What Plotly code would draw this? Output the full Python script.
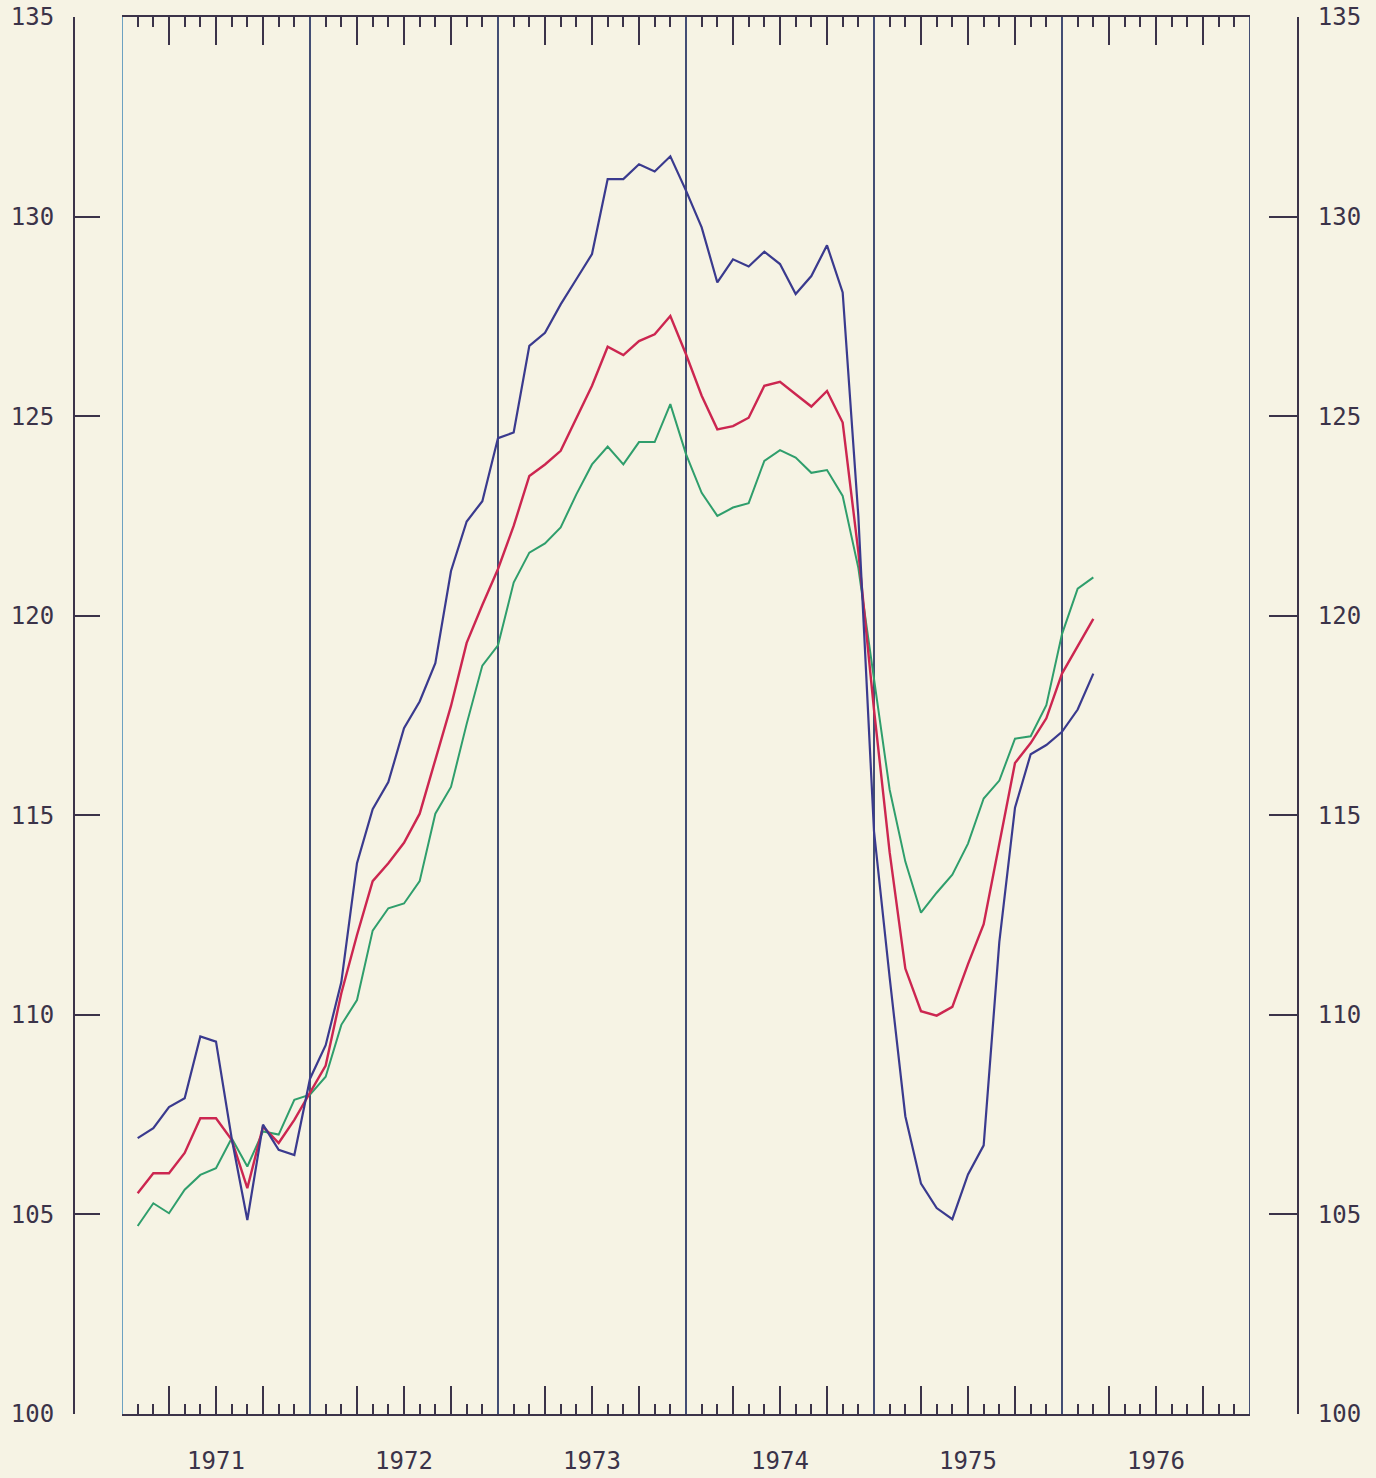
import plotly.graph_objects as go

# months since start of 1971 (end of month positions)
months = list(range(1, 63))

blue = [106.91, 107.16, 107.69, 107.91, 109.46, 109.33, 106.91, 104.86, 107.25, 106.62, 106.49, 108.40,
        109.24, 110.82, 113.80, 115.15, 115.83, 117.18, 117.85, 118.81, 121.12, 122.36, 122.87, 124.45,
        124.59, 126.76, 127.09, 127.80, 128.43, 129.06, 130.94, 130.94, 131.31, 131.13, 131.51, 130.65,
        129.73, 128.35, 128.93, 128.75, 129.12, 128.81, 128.06, 128.51, 129.28, 128.10, 122.50, 114.60,
        110.93, 107.46, 105.77, 105.16, 104.88, 106.00, 106.73, 111.83, 115.19, 116.53, 116.76, 117.09,
        117.65, 118.55]

red = [105.53, 106.03, 106.03, 106.54, 107.41, 107.41, 106.87, 105.66, 107.20, 106.79, 107.37, 108.05,
       108.73, 110.54, 112.00, 113.35, 113.80, 114.31, 115.04, 116.39, 117.74, 119.32, 120.27, 121.17,
       122.25, 123.50, 123.79, 124.13, 124.96, 125.76, 126.74, 126.53, 126.88, 127.05, 127.51, 126.55,
       125.51, 124.67, 124.75, 124.96, 125.76, 125.86, 125.55, 125.24, 125.63, 124.84, 121.60, 117.65,
       114.07, 111.16, 110.09, 109.98, 110.20, 111.27, 112.27, 114.29, 116.31, 116.81, 117.43, 118.55,
       119.22, 119.92]

green = [104.71, 105.28, 105.03, 105.62, 105.99, 106.16, 106.91, 106.20, 107.08, 107.00, 107.87, 108.00,
         108.45, 109.75, 110.37, 112.11, 112.67, 112.79, 113.35, 115.04, 115.71, 117.29, 118.75, 119.26,
         120.83, 121.58, 121.81, 122.21, 123.04, 123.79, 124.24, 123.79, 124.35, 124.35, 125.30, 124.05,
         123.08, 122.50, 122.71, 122.82, 123.88, 124.15, 123.96, 123.58, 123.65, 123.00, 121.20, 118.40,
         115.64, 113.84, 112.56, 113.06, 113.51, 114.29, 115.42, 115.87, 116.92, 116.98, 117.76, 119.54,
         120.68, 120.96]

years = ["1971", "1972", "1973", "1974", "1975", "1976"]
y_ticks = [100, 105, 110, 115, 120, 125, 130, 135]

bg = "#f6f3e4"
ink = "#3b3349"
font = dict(family="DejaVu Sans Mono", size=24, color=ink)

fig = go.Figure()
fig.add_trace(go.Scatter(x=months, y=green, mode="lines", line=dict(color="#2f9e6c", width=2), showlegend=False))
fig.add_trace(go.Scatter(x=months, y=red, mode="lines", line=dict(color="#cc2650", width=2.4), showlegend=False))
# blue on the right-hand axis so that axis gets drawn (same range as the left one)
fig.add_trace(go.Scatter(x=months, y=blue, mode="lines", line=dict(color="#3a3a8e", width=2.2),
                         yaxis="y2", showlegend=False))

# year dividers (also the left/right frame)
for k in range(len(years) + 1):
    fig.add_shape(type="line", xref="x", yref="paper", x0=12 * k, x1=12 * k, y0=0, y1=1,
                  line=dict(color="#5d98bd" if k == 0 else "#2f3b68", width=1.8), layer="below")

# quarterly major ticks (year positions carry the divider instead); labels on mid-year ticks
qticks = [v for v in range(0, 73, 3) if v % 12 != 0]
qtext = [years[(v - 6) // 12] if v % 12 == 6 else "" for v in qticks]

fig.update_layout(
    width=1376, height=1478,
    margin=dict(l=74, r=78, t=17, b=64),
    paper_bgcolor=bg, plot_bgcolor=bg,
    font=font,
    xaxis=dict(
        domain=[48 / 1224, 1176 / 1224], range=[0, 72], anchor="y", automargin=False,
        showgrid=False, zeroline=False,
        showline=True, linecolor=ink, linewidth=2, mirror="ticks",
        tickmode="array", tickvals=qticks, ticktext=qtext,
        ticks="inside", ticklen=28, tickwidth=2, tickcolor=ink,
        ticklabelstandoff=24, tickfont=font,
        minor=dict(tickmode="array", tickvals=[m for m in range(73) if m % 3 != 0],
                   ticks="inside", ticklen=10, tickwidth=2, tickcolor=ink, showgrid=False),
    ),
    yaxis=dict(
        range=[100, 135], anchor="free", position=0, side="left", automargin=False,
        showgrid=False, zeroline=False,
        showline=True, linecolor=ink, linewidth=2,
        tickmode="array", tickvals=y_ticks,
        ticks="inside", ticklen=25, tickwidth=2, tickcolor=ink,
        ticklabelstandoff=14, tickfont=font,
    ),
    yaxis2=dict(
        range=[100, 135], anchor="free", position=1, side="right", overlaying="y", automargin=False,
        showgrid=False, zeroline=False,
        showline=True, linecolor=ink, linewidth=2,
        tickmode="array", tickvals=y_ticks,
        ticks="inside", ticklen=28, tickwidth=2, tickcolor=ink,
        ticklabelstandoff=14, tickfont=font,
    ),
)

fig.write_html("out.html", config={"displayModeBar": False},
               post_script="document.body.style.margin='0px';")
